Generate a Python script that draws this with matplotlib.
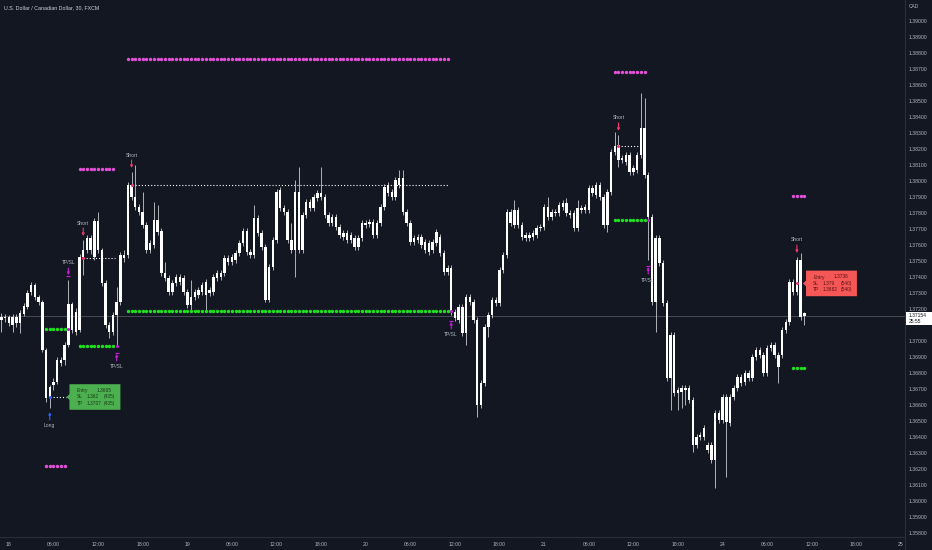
import matplotlib.pyplot as plt
import matplotlib.patches as patches
from matplotlib.lines import Line2D
from matplotlib.transforms import offset_copy, blended_transform_factory
import numpy as np

plt.rcParams['font.family'] = ['Liberation Sans', 'DejaVu Sans']

# USD/CAD 30 min candles, bar index 0 = 18th 00:00, first candle is bar -2
first_bar = -2
opens = [
    1.37131, 1.37150, 1.37150, 1.37100, 1.37150, 1.37113, 1.37169, 1.37213, 1.37306, 1.37350,  # -2..7
    1.37275, 1.37244, 1.36944, 1.36644, 1.36725, 1.36744, 1.36881, 1.36881, 1.36975, 1.37231,  # 8..17
    1.37056, 1.37069, 1.37525, 1.37569, 1.37644, 1.37525, 1.37750, 1.37569, 1.37363, 1.37100,  # 18..27
    1.37056, 1.37163, 1.37244, 1.37538, 1.37538, 1.37975, 1.37900, 1.37838, 1.37806, 1.37725,  # 28..37
    1.37569, 1.37600, 1.37756, 1.37688, 1.37425, 1.37394, 1.37306, 1.37363, 1.37400, 1.37394,  # 38..47
    1.37306, 1.37225, 1.37275, 1.37288, 1.37306, 1.37369, 1.37300, 1.37306, 1.37394, 1.37425,  # 48..57
    1.37425, 1.37519, 1.37494, 1.37506, 1.37550, 1.37613, 1.37688, 1.37556, 1.37538, 1.37769,  # 58..67
    1.37675, 1.37588, 1.37256, 1.37463, 1.37631, 1.37944, 1.37831, 1.37806, 1.37631, 1.37569,  # 68..77
    1.37931, 1.37569, 1.37788, 1.37869, 1.37831, 1.37894, 1.37925, 1.37900, 1.37788, 1.37738,  # 78..87
    1.37775, 1.37713, 1.37675, 1.37631, 1.37663, 1.37644, 1.37588, 1.37644, 1.37738, 1.37731,  # 88..97
    1.37744, 1.37663, 1.37738, 1.37838, 1.37975, 1.37931, 1.37900, 1.37975, 1.38019, 1.37806,  # 98..107
    1.37738, 1.37619, 1.37631, 1.37650, 1.37619, 1.37613, 1.37569, 1.37613, 1.37650, 1.37550,  # 108..117
    1.37431, 1.37456, 1.37181, 1.37131, 1.37213, 1.37050, 1.37275, 1.37244, 1.37131, 1.36600,  # 118..127
    1.36738, 1.37088, 1.37163, 1.37256, 1.37238, 1.37444, 1.37538, 1.37806, 1.37725, 1.37819,  # 128..137
    1.37725, 1.37644, 1.37663, 1.37650, 1.37663, 1.37706, 1.37713, 1.37838, 1.37775, 1.37806,  # 138..147
    1.37800, 1.37838, 1.37863, 1.37800, 1.37800, 1.37706, 1.37831, 1.37819, 1.37819, 1.37956,  # 148..157
    1.37913, 1.37975, 1.37900, 1.37725, 1.37931, 1.38181, 1.38225, 1.38131, 1.38163, 1.38163,  # 158..167
    1.38056, 1.38069, 1.38163, 1.38331, 1.38038, 1.37775, 1.37244, 1.37644, 1.37488, 1.37238,  # 168..177
    1.36769, 1.37038, 1.36675, 1.36681, 1.36706, 1.36706, 1.36631, 1.36350, 1.36400, 1.36400,  # 178..187
    1.36350, 1.36350, 1.36256, 1.36550, 1.36506, 1.36650, 1.36488, 1.36650, 1.36706, 1.36775,  # 188..197
    1.36744, 1.36800, 1.36769, 1.36900, 1.36944, 1.36913, 1.36800, 1.36956, 1.36975, 1.36913,  # 198..207
    1.36913, 1.37069, 1.37119, 1.37369, 1.37306, 1.37506, 1.37175,                               # 208..214
]
highs = [
    1.37175, 1.37169, 1.37163, 1.37169, 1.37169, 1.37194, 1.37238, 1.37319, 1.37369, 1.37363,
    1.37288, 1.37256, 1.36956, 1.36725, 1.36769, 1.36900, 1.36900, 1.36994, 1.37381, 1.37244,
    1.37206, 1.37544, 1.37631, 1.37663, 1.37663, 1.37769, 1.37806, 1.37581, 1.37381, 1.37119,
    1.37181, 1.37338, 1.37556, 1.37569, 1.37994, 1.38056, 1.38100, 1.37856, 1.37931, 1.37744,
    1.37631, 1.37869, 1.37850, 1.37706, 1.37494, 1.37413, 1.37381, 1.37419, 1.37419, 1.37413,
    1.37325, 1.37381, 1.37325, 1.37338, 1.37369, 1.37388, 1.37338, 1.37419, 1.37444, 1.37444,
    1.37538, 1.37538, 1.37544, 1.37569, 1.37631, 1.37706, 1.37706, 1.37575, 1.37850, 1.37788,
    1.37694, 1.37606, 1.37481, 1.37650, 1.37950, 1.37963, 1.37850, 1.37825, 1.37738, 1.38006,
    1.38088, 1.37806, 1.37888, 1.37888, 1.37919, 1.37944, 1.38088, 1.37919, 1.37806, 1.37794,
    1.37794, 1.37731, 1.37694, 1.37694, 1.37681, 1.37663, 1.37663, 1.37756, 1.37756, 1.37763,
    1.37763, 1.37756, 1.37856, 1.37981, 1.37994, 1.37950, 1.38025, 1.38069, 1.38069, 1.37825,
    1.37756, 1.37663, 1.37669, 1.37669, 1.37638, 1.37631, 1.37638, 1.37700, 1.37669, 1.37569,
    1.37475, 1.37475, 1.37200, 1.37231, 1.37231, 1.37294, 1.37294, 1.37263, 1.37150, 1.36756,
    1.37106, 1.37181, 1.37275, 1.37275, 1.37463, 1.37556, 1.37825, 1.37825, 1.37881, 1.37838,
    1.37744, 1.37681, 1.37681, 1.37694, 1.37725, 1.37731, 1.37856, 1.37900, 1.37825, 1.37825,
    1.37869, 1.37881, 1.37894, 1.37819, 1.37819, 1.37881, 1.37850, 1.37856, 1.37975, 1.37975,
    1.37994, 1.37994, 1.37919, 1.37950, 1.38200, 1.38306, 1.38288, 1.38163, 1.38181, 1.38181,
    1.38100, 1.38181, 1.38550, 1.38519, 1.38056, 1.37794, 1.37663, 1.37663, 1.37506, 1.37256,
    1.37056, 1.37056, 1.36713, 1.36725, 1.36725, 1.36725, 1.36650, 1.36419, 1.36431, 1.36475,
    1.36369, 1.36369, 1.36569, 1.36569, 1.36669, 1.36669, 1.36669, 1.36725, 1.36794, 1.36794,
    1.36819, 1.36819, 1.36919, 1.36963, 1.36963, 1.36931, 1.36975, 1.36994, 1.36994, 1.36931,
    1.37088, 1.37138, 1.37388, 1.37388, 1.37525, 1.37550, 1.37181,
]
lows = [
    1.37056, 1.37119, 1.37094, 1.37056, 1.37088, 1.37050, 1.37156, 1.37200, 1.37288, 1.37256,
    1.37225, 1.36931, 1.36619, 1.36581, 1.36694, 1.36731, 1.36844, 1.36850, 1.36963, 1.37050,
    1.37038, 1.37056, 1.37413, 1.37550, 1.37544, 1.37506, 1.37550, 1.37344, 1.37081, 1.37019,
    1.37038, 1.36963, 1.37225, 1.37494, 1.37519, 1.37881, 1.37819, 1.37788, 1.37706, 1.37550,
    1.37550, 1.37581, 1.37663, 1.37406, 1.37375, 1.37288, 1.37288, 1.37344, 1.37350, 1.37288,
    1.37206, 1.37194, 1.37256, 1.37269, 1.37288, 1.37181, 1.37281, 1.37288, 1.37375, 1.37381,
    1.37406, 1.37475, 1.37475, 1.37488, 1.37531, 1.37594, 1.37538, 1.37519, 1.37519, 1.37656,
    1.37569, 1.37244, 1.37244, 1.37444, 1.37613, 1.37813, 1.37788, 1.37613, 1.37550, 1.37400,
    1.37550, 1.37550, 1.37769, 1.37813, 1.37813, 1.37875, 1.37881, 1.37769, 1.37719, 1.37719,
    1.37694, 1.37644, 1.37631, 1.37613, 1.37613, 1.37569, 1.37569, 1.37625, 1.37706, 1.37713,
    1.37644, 1.37644, 1.37719, 1.37819, 1.37906, 1.37881, 1.37881, 1.37956, 1.37788, 1.37719,
    1.37600, 1.37600, 1.37613, 1.37581, 1.37550, 1.37538, 1.37550, 1.37594, 1.37531, 1.37413,
    1.37413, 1.37163, 1.37125, 1.37113, 1.37031, 1.36975, 1.37225, 1.37113, 1.36525, 1.36581,
    1.36719, 1.37025, 1.37144, 1.37219, 1.37219, 1.37425, 1.37519, 1.37719, 1.37706, 1.37706,
    1.37631, 1.37625, 1.37625, 1.37631, 1.37644, 1.37688, 1.37694, 1.37756, 1.37756, 1.37781,
    1.37781, 1.37819, 1.37781, 1.37769, 1.37688, 1.37688, 1.37800, 1.37800, 1.37800, 1.37906,
    1.37894, 1.37881, 1.37706, 1.37681, 1.37913, 1.38163, 1.38088, 1.38113, 1.38100, 1.38038,
    1.38038, 1.38050, 1.38144, 1.38019, 1.37506, 1.37225, 1.37056, 1.37469, 1.37219, 1.36750,
    1.36569, 1.36656, 1.36569, 1.36581, 1.36600, 1.36613, 1.36306, 1.36331, 1.36381, 1.36381,
    1.36300, 1.36238, 1.36081, 1.36488, 1.36488, 1.36150, 1.36469, 1.36631, 1.36688, 1.36719,
    1.36725, 1.36750, 1.36750, 1.36881, 1.36894, 1.36781, 1.36781, 1.36938, 1.36894, 1.36738,
    1.36894, 1.37050, 1.37100, 1.37288, 1.37288, 1.37131, 1.37100,
]
closes = [
    1.37150, 1.37144, 1.37113, 1.37150, 1.37113, 1.37175, 1.37219, 1.37300, 1.37350, 1.37275,
    1.37244, 1.36944, 1.36644, 1.36713, 1.36744, 1.36881, 1.36863, 1.36975, 1.37231, 1.37069,
    1.37181, 1.37525, 1.37569, 1.37644, 1.37569, 1.37750, 1.37569, 1.37363, 1.37100, 1.37056,
    1.37163, 1.37244, 1.37538, 1.37519, 1.37975, 1.37900, 1.37838, 1.37806, 1.37725, 1.37569,
    1.37613, 1.37756, 1.37681, 1.37425, 1.37394, 1.37306, 1.37363, 1.37400, 1.37369, 1.37306,
    1.37225, 1.37275, 1.37306, 1.37319, 1.37350, 1.37288, 1.37319, 1.37400, 1.37425, 1.37400,
    1.37519, 1.37494, 1.37525, 1.37550, 1.37613, 1.37688, 1.37556, 1.37538, 1.37769, 1.37675,
    1.37588, 1.37256, 1.37463, 1.37631, 1.37931, 1.37831, 1.37806, 1.37631, 1.37569, 1.37931,
    1.37569, 1.37788, 1.37869, 1.37831, 1.37900, 1.37925, 1.37900, 1.37788, 1.37738, 1.37775,
    1.37713, 1.37663, 1.37650, 1.37675, 1.37631, 1.37588, 1.37644, 1.37738, 1.37725, 1.37744,
    1.37663, 1.37738, 1.37838, 1.37963, 1.37925, 1.37900, 1.38006, 1.38019, 1.37806, 1.37738,
    1.37619, 1.37644, 1.37650, 1.37600, 1.37569, 1.37556, 1.37619, 1.37681, 1.37550, 1.37431,
    1.37456, 1.37181, 1.37144, 1.37213, 1.37050, 1.37275, 1.37244, 1.37131, 1.36600, 1.36738,
    1.37088, 1.37163, 1.37256, 1.37238, 1.37444, 1.37538, 1.37806, 1.37738, 1.37819, 1.37725,
    1.37650, 1.37663, 1.37644, 1.37675, 1.37706, 1.37713, 1.37838, 1.37775, 1.37806, 1.37800,
    1.37850, 1.37863, 1.37800, 1.37788, 1.37706, 1.37831, 1.37819, 1.37838, 1.37956, 1.37925,
    1.37975, 1.37900, 1.37725, 1.37931, 1.38181, 1.38219, 1.38131, 1.38144, 1.38119, 1.38056,
    1.38081, 1.38163, 1.38331, 1.38038, 1.37775, 1.37244, 1.37644, 1.37488, 1.37238, 1.36769,
    1.37038, 1.36675, 1.36694, 1.36706, 1.36694, 1.36631, 1.36350, 1.36400, 1.36413, 1.36456,
    1.36319, 1.36256, 1.36550, 1.36506, 1.36650, 1.36494, 1.36650, 1.36706, 1.36775, 1.36738,
    1.36800, 1.36769, 1.36900, 1.36944, 1.36913, 1.36800, 1.36956, 1.36975, 1.36913, 1.36838,
    1.37069, 1.37119, 1.37369, 1.37306, 1.37506, 1.37150, 1.37154,
]

# indicator trades (bar index of entry / exit, price levels)
trade_side = ['Long', 'Short', 'Short', 'Short', 'Short']
trade_bar = [11, 20, 33, 164, 212]
trade_exit = [16, 29, 119, 172, None]
trade_entry = [1.3665, 1.37521, 1.37975, 1.38219, 1.3736]
trade_sl = [1.3622, 1.38075, 1.38763, 1.38683, 1.37906]
trade_tp = [1.37075, 1.36969, 1.37188, 1.37756, 1.36833]

# info boxes: trade index, texts
box_trade = [0, 4]
box_entry_txt = ['1.3665', '1.3736']
box_sl_txt = ['1.362', '1.379']
box_tp_txt = ['1.3707', '1.3682']
box_ticks_txt = ['(435)', '(540)']

time_labels = ['18', '06:00', '12:00', '18:00', '19', '06:00', '12:00', '18:00',
               '20', '06:00', '12:00', '18:00', '21', '06:00', '12:00', '18:00',
               '24', '06:00', '12:00', '18:00', '25']
price_ticks = [1.358, 1.359, 1.360, 1.361, 1.362, 1.363, 1.364, 1.365, 1.366,
               1.367, 1.368, 1.369, 1.370, 1.372, 1.373, 1.374, 1.375, 1.376,
               1.377, 1.378, 1.379, 1.380, 1.381, 1.382, 1.383, 1.384, 1.385,
               1.386, 1.387, 1.388, 1.389, 1.390]

BG = '#131722'
TXT = '#b2b5be'
PINK = '#e54fd9'
GREEN = '#1de31d'
MAGENTA = '#c21fd6'
SHORT_RED = '#f0386b'
LONG_BLUE = '#2962ff'

fig = plt.figure(figsize=(9.32, 5.5), dpi=100, facecolor=BG)
ax = fig.add_axes([0, 13 / 550, 905 / 932, 537 / 550], facecolor=BG)


def off(dy):
    return offset_copy(ax.transData, fig=fig, x=0, y=dy, units='dots')


def arrow(x, y, dy_tail, dy_head, color):
    # small vertical arrow, offsets in pixels from the (x, y) data point
    ax.annotate('', xy=(x, y), xycoords=off(dy_head), xytext=(x, y), textcoords=off(dy_tail),
                arrowprops=dict(arrowstyle='-|>', color=color, lw=0.8, mutation_scale=3.5,
                                shrinkA=0, shrinkB=0), zorder=7)


bars = np.arange(first_bar, first_bar + len(opens))
o = np.array(opens)
c = np.array(closes)
h = np.array(highs)
l = np.array(lows)

# current price line
ax.axhline(c[-1], color='#5d606b', lw=0.5, zorder=1)

# candles
ax.vlines(bars, l, h, color='#c9cbd1', lw=0.6, zorder=3)
body_lo = np.minimum(o, c)
body_h = np.maximum(np.abs(c - o), 0.00005)
ax.bar(bars, body_h, bottom=body_lo, width=0.66, color='white', lw=0, zorder=4)

# trade levels
for k in range(len(trade_bar)):
    b = trade_bar[k]
    stop = trade_exit[k] if trade_exit[k] is not None else bars[-1] + 1
    seg = np.arange(b - 1, stop)
    ax.scatter(seg, np.full(len(seg), trade_sl[k]), s=6, color=PINK, lw=0, zorder=5)
    ax.scatter(seg, np.full(len(seg), trade_tp[k]), s=6, color=GREEN, lw=0, zorder=5)
    ax.plot([b, stop - 0.5], [trade_entry[k]] * 2, color='white', lw=0.8,
            ls=(0, (1, 1.8)), zorder=2)
    mark = LONG_BLUE if trade_side[k] == 'Long' else SHORT_RED
    ax.scatter([b], [trade_entry[k]], s=5, color=mark, lw=0, zorder=6)

    hi = h[b - first_bar]
    lo = l[b - first_bar]
    if trade_side[k] == 'Short':
        arrow(b, hi, 12, 4, SHORT_RED)
        ax.text(b, hi, 'Short', transform=off(17), ha='center', va='center',
                fontsize=3.6, color=TXT, zorder=7)
    else:
        arrow(b, lo, -12, -4, LONG_BLUE)
        ax.text(b, lo, 'Long', transform=off(-17), ha='center', va='center',
                fontsize=3.6, color=TXT, zorder=7)

    if trade_exit[k] is not None:
        e = trade_exit[k]
        ax.scatter([e], [trade_tp[k]], s=5, color=MAGENTA, lw=0, zorder=6)
        if trade_side[k] == 'Long':
            ref = h[e - first_bar]
            # arrow down onto a bar
            arrow(e, ref, 12, 5, MAGENTA)
            ax.plot([e], [ref], marker='_', ms=3.2, mew=0.9, color=MAGENTA,
                    transform=off(4), zorder=7)
            ax.text(e, ref, 'TP/SL', transform=off(18), ha='center', va='center',
                    fontsize=3.6, color=TXT, zorder=7)
        else:
            ref = l[e - first_bar]
            # arrow up onto a bar
            arrow(e, ref, -14, -7, MAGENTA)
            ax.plot([e], [ref], marker='_', ms=3.2, mew=0.9, color=MAGENTA,
                    transform=off(-6), zorder=7)
            ax.text(e, ref, 'TP/SL', transform=off(-20), ha='center', va='center',
                    fontsize=3.6, color=TXT, zorder=7)

# info boxes
box_left = [16.3, 214.45]
box_w = 13.7
box_half = 0.0008
for n, k in enumerate(box_trade):
    x0 = box_left[n]
    yc = trade_entry[k]
    face = '#4caf50' if trade_side[k] == 'Long' else '#f55656'
    ink = '#173d17' if trade_side[k] == 'Long' else '#5a1414'
    pts = [(x0, yc + box_half), (x0 + box_w, yc + box_half), (x0 + box_w, yc - box_half),
           (x0, yc - box_half), (x0, yc - 0.00018), (x0 - 0.8, yc), (x0, yc + 0.00018)]
    ax.add_patch(patches.Polygon(pts, closed=True, facecolor=face, edgecolor='none', zorder=8))
    rows = [('Entry', box_entry_txt[n], '', 7.4),
            ('SL', box_sl_txt[n], box_ticks_txt[n], 4.5),
            ('TP', box_tp_txt[n], box_ticks_txt[n], 4.5)]
    for r, (lab, val, tk, vx) in enumerate(rows):
        yy = yc + 0.0004 * (1 - r)
        ax.text(x0 + 1.95, yy, lab, fontsize=3.5, color=ink, va='center', zorder=9)
        ax.text(x0 + vx, yy, val, fontsize=3.5, color=ink, va='center', zorder=9)
        if tk:
            ax.text(x0 + 9.35, yy, tk, fontsize=3.5, color=ink, va='center', zorder=9)

# axes styling
ax.set_xlim(-2.39, 241.08)
ax.set_ylim(1.35775, 1.3913125)
ax.set_xticks(np.arange(0, 12 * len(time_labels), 12))
ax.set_xticklabels(time_labels)
ax.yaxis.tick_right()
ax.set_yticks(price_ticks)
ax.set_yticklabels([f'{v:.5f}' for v in price_ticks])
ax.tick_params(axis='both', length=0, labelsize=3.7, labelcolor=TXT)
ax.tick_params(axis='x', pad=3.6)
ax.tick_params(axis='y', pad=2.9)
for side in ['top', 'left']:
    ax.spines[side].set_visible(False)
for side in ['right', 'bottom']:
    ax.spines[side].set_color('#2a2e39')
    ax.spines[side].set_linewidth(0.8)
fig.add_artist(Line2D([905 / 932, 905 / 932], [0, 13 / 550], color='#2a2e39', lw=0.8))

# last price label on the price scale
bt = blended_transform_factory(fig.transFigure, ax.transData)
ax.add_patch(patches.Rectangle((905.5 / 932, c[-1] - 0.00056), 26 / 932, 0.00086,
                               transform=bt, facecolor='white', edgecolor='none',
                               clip_on=False, zorder=10))
bt_off = offset_copy(bt, fig=fig, x=0, y=0.5, units='dots')
ax.text(909 / 932, c[-1], f'{c[-1]:.5f}', transform=bt_off, fontsize=3.6,
        color='#131722', va='center', clip_on=False, zorder=11)
bt_off2 = offset_copy(bt, fig=fig, x=0, y=-5.5, units='dots')
ax.text(909 / 932, c[-1], '25:55', transform=bt_off2, fontsize=3.6,
        color='#131722', va='center', clip_on=False, zorder=11)

fig.text(4 / 932, 1 - 7.5 / 550, 'U.S. Dollar / Canadian Dollar, 30, FXCM',
         fontsize=3.8, color='#d1d4dc', va='center')
fig.text(909 / 932, 1 - 6 / 550, 'CAD', fontsize=3.5, color=TXT, va='center')

fig.savefig('out.png', dpi=100, facecolor=BG)
